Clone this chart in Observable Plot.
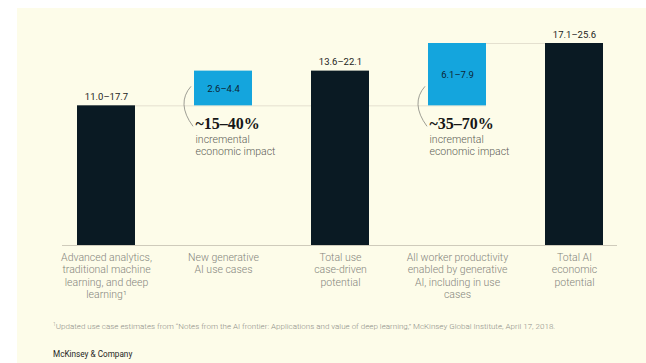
<!DOCTYPE html>
<html>
<head>
<meta charset="utf-8">
<script src="https://cdn.jsdelivr.net/npm/d3@7"></script>
<script src="https://cdn.jsdelivr.net/npm/@observablehq/plot@0.6"></script>
<style>
  html, body { margin: 0; padding: 0; background: #ffffff; }
  body { width: 646px; height: 363px; position: relative; overflow: hidden; font-family: Roboto, "Liberation Sans", sans-serif; }
  #card { position: absolute; left: 17px; top: 8px; width: 629px; height: 355px; background: #fdfce9; }
  #chart { position: absolute; left: 0; top: 0; }
  #foot { position: absolute; left: 36px; top: 311px; font-size: 8px; line-height: 10px; color: #8e8e88; white-space: nowrap; font-weight: 300; }
  #foot sup { font-size: 5px; vertical-align: 3px; }
  #brand { position: absolute; left: 36px; top: 341px; font-size: 8.2px; line-height: 10px; color: #1e1e1e; font-weight: 400; }
</style>
</head>
<body>
<div id="card">
  <div id="chart"></div>
  <div id="foot"><sup>1</sup>Updated use case estimates from “Notes from the AI frontier: Applications and value of deep learning,” McKinsey Global Institute, April 17, 2018.</div>
  <div id="brand">McKinsey &amp; Company</div>
</div>
<script>
// ---- data ----
const categories = [
  "Advanced analytics,\ntraditional machine\nlearning, and deep\nlearning¹",
  "New generative\nAI use cases",
  "Total use\ncase-driven\npotential",
  "All worker productivity\nenabled by generative\nAI, including in use\ncases",
  "Total AI\neconomic\npotential"
];
const lowValues = [11.0, 2.6, 13.6, 6.1, 17.1];
const highValues = [17.7, 4.4, 22.1, 7.9, 25.6];
const barKinds = ["total", "increment", "total", "increment", "total"];
const impactLabels = ["~15–40%", "~35–70%"];
const impactNote = "incremental\neconomic impact";

// ---- derived table ----
const base = highValues[0];
const rows = categories.map((cat, i) => ({
  cat,
  low: lowValues[i],
  high: highValues[i],
  kind: barKinds[i],
  y1: barKinds[i] === "total" ? 0 : base,
  y2: barKinds[i] === "total" ? highValues[i] : base + highValues[i],
  label: `${lowValues[i].toFixed(1)}–${highValues[i].toFixed(1)}`
}));
const totals = rows.filter(d => d.kind === "total");
const incs = rows.filter(d => d.kind === "increment").map((d, j) => ({...d, impact: impactLabels[j]}));

const DARK = "#0a1a23";
const BLUE = "#14a5dd";

const chart = Plot.plot({
  width: 629,
  height: 310,
  marginTop: 35,
  marginBottom: 73,
  marginLeft: 45,
  marginRight: 29,
  style: { background: "transparent", fontFamily: "Roboto, 'Liberation Sans', sans-serif" },
  x: { domain: categories, paddingInner: 0.507, paddingOuter: 0.11, axis: null },
  y: { domain: [0, highValues[4]], axis: null },
  marks: [
    // connector lines
    Plot.ruleY([{y: base, x1: categories[0], x2: categories[3]}], {y: "y", x1: "x1", x2: "x2", stroke: "#e4e0cf", strokeWidth: 1}),
    Plot.ruleY([{y: highValues[4], x1: categories[3], x2: categories[4]}], {y: "y", x1: "x1", x2: "x2", stroke: "#e4e0cf", strokeWidth: 1}),
    // baseline
    Plot.ruleY([0], {stroke: "#cfcbbb", strokeWidth: 1}),
    // bars
    Plot.barY(rows, {x: "cat", y1: "y1", y2: "y2", fill: d => d.kind === "total" ? DARK : BLUE}),
    // value labels
    Plot.text(totals, {x: "cat", y: "y2", text: "label", dy: -9, fontSize: 9.5, fill: "#1c1c1c"}),
    Plot.text(incs, {x: "cat", y: d => (d.y1 + d.y2) / 2, text: "label", fontSize: 9.5, fill: "#0c2636"}),
    // impact annotations
    Plot.text(incs, {x: "cat", y: "y1", text: "impact", textAnchor: "start", dx: -28, dy: 18,
      fontSize: 16, fontWeight: "bold", fontFamily: "'Liberation Serif', 'DejaVu Serif', serif", fill: "#161616"}),
    Plot.text(incs, {x: "cat", y: "y1", text: () => impactNote, textAnchor: "start", dx: -28, dy: 39,
      fontSize: 10.5, lineHeight: 1.15, fontWeight: 300, fill: "#5e5e58"}),
    // brackets
    (index, scales) => {
      const g = d3.create("svg:g");
      incs.forEach(d => {
        const x0 = scales.x(d.cat);
        const y0 = scales.y(d.y1);
        g.append("path")
          .attr("d", `M${x0 - 3},${y0 - 19}Q${x0 - 18},${y0 - 2} ${x0 - 1},${y0 + 21}`)
          .attr("fill", "none").attr("stroke", "#85857d").attr("stroke-width", 0.8);
      });
      return g.node();
    },
    // category labels
    Plot.text(rows, {x: "cat", y: 0, text: "cat", lineAnchor: "top", dy: 7, fontSize: 10.5, lineHeight: 1.16, fontWeight: 300, fill: "#85857d"})
  ]
});
document.getElementById("chart").appendChild(chart);
</script>
</body>
</html>
